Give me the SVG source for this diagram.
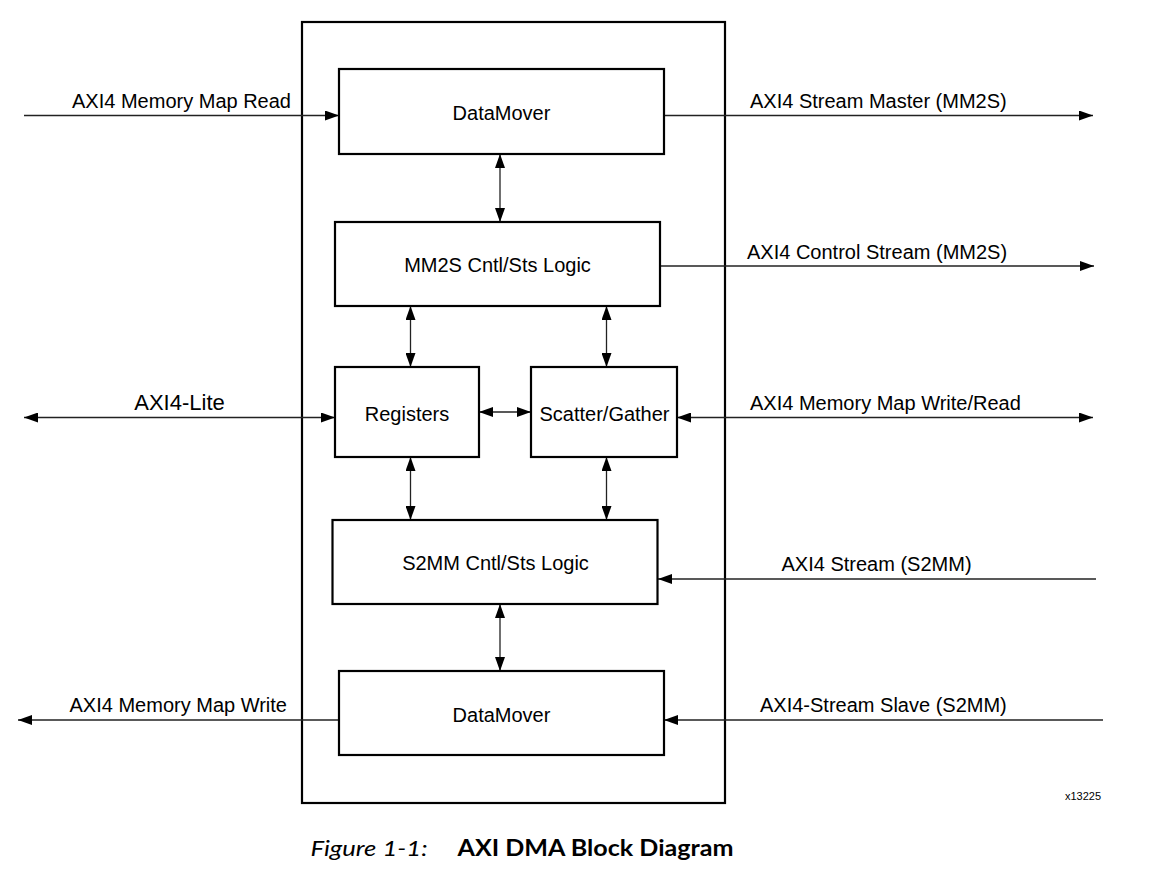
<svg xmlns="http://www.w3.org/2000/svg" width="1162" height="881" viewBox="0 0 1162 881">
<style>
  .box{fill:#fff;stroke:#000;stroke-width:2.2}
  .outer{fill:none;stroke:#000;stroke-width:2.2}
  .lbl{font-family:"Liberation Sans",Arial,sans-serif;font-size:20px;fill:#000}
  .c{text-anchor:middle}
  .ln{stroke:#222;stroke-width:1.3;fill:none}
  .one{marker-end:url(#ah)}
  .two{marker-start:url(#ah);marker-end:url(#ah)}
</style>
<defs>
  <marker id="ah" markerUnits="userSpaceOnUse" markerWidth="14" markerHeight="10" refX="14" refY="5" orient="auto-start-reverse">
    <path d="M0,0 L14,5 L0,10 z" fill="#000"/>
  </marker>
</defs>
<rect width="1162" height="881" fill="#fff"/>
<g id="container"><rect class="outer" x="302" y="22" width="423" height="781"/></g>
<g id="connectors">
  <line class="ln one" x1="24" y1="115.5" x2="339" y2="115.5"/>
  <line class="ln one" x1="664" y1="115.5" x2="1093" y2="115.5"/>
  <line class="ln two" x1="500" y1="154" x2="500" y2="222"/>
  <line class="ln one" x1="660" y1="266" x2="1094" y2="266"/>
  <line class="ln two" x1="410.5" y1="306" x2="410.5" y2="367"/>
  <line class="ln two" x1="606.5" y1="306" x2="606.5" y2="367"/>
  <line class="ln two" x1="24" y1="417.5" x2="335" y2="417.5"/>
  <line class="ln two" x1="479" y1="412" x2="531" y2="412"/>
  <line class="ln two" x1="677" y1="417.5" x2="1093" y2="417.5"/>
  <line class="ln two" x1="410.5" y1="457" x2="410.5" y2="520"/>
  <line class="ln two" x1="606.5" y1="457" x2="606.5" y2="520"/>
  <line class="ln one" x1="1096" y1="579" x2="658" y2="579"/>
  <line class="ln two" x1="500" y1="604" x2="500" y2="671"/>
  <line class="ln one" x1="339" y1="720" x2="18" y2="720"/>
  <line class="ln one" x1="1103" y1="720" x2="664" y2="720"/>
</g>
<g id="datamover-top"><rect class="box" x="339" y="69" width="325" height="85"/><text class="lbl c" x="501.5" y="120">DataMover</text></g>
<g id="mm2s"><rect class="box" x="335" y="222" width="325" height="84"/><text class="lbl c" x="497.5" y="272">MM2S Cntl/Sts Logic</text></g>
<g id="registers"><rect class="box" x="335" y="367" width="144" height="90"/><text class="lbl c" x="407" y="421">Registers</text></g>
<g id="sg"><rect class="box" x="531" y="367" width="146" height="90"/><text class="lbl c" x="604.5" y="421">Scatter/Gather</text></g>
<g id="s2mm"><rect class="box" x="332.5" y="520" width="325" height="84"/><text class="lbl c" x="495.5" y="570">S2MM Cntl/Sts Logic</text></g>
<g id="datamover-bottom"><rect class="box" x="339" y="671" width="325" height="84"/><text class="lbl c" x="501.5" y="722">DataMover</text></g>
<g id="labels">
  <text class="lbl" x="291" y="108" text-anchor="end">AXI4 Memory Map Read</text>
  <text class="lbl" x="750" y="108">AXI4 Stream Master (MM2S)</text>
  <text class="lbl" x="747" y="259">AXI4 Control Stream (MM2S)</text>
  <text class="lbl c" x="179.5" y="410" style="font-size:22px">AXI4-Lite</text>
  <text class="lbl" x="750" y="409.5">AXI4 Memory Map Write/Read</text>
  <text class="lbl" x="781.5" y="571">AXI4 Stream (S2MM)</text>
  <text class="lbl" x="287" y="712" text-anchor="end">AXI4 Memory Map Write</text>
  <text class="lbl" x="760" y="712">AXI4-Stream Slave (S2MM)</text>
  <text x="1101" y="800" text-anchor="end" style="font-family:'Liberation Sans',Arial,sans-serif;font-size:11px;fill:#000">x13225</text>
</g>
<g id="caption">
  <text x="310.5" y="856" textLength="117" lengthAdjust="spacingAndGlyphs" style="font-family:Lato,'Open Sans',sans-serif;font-style:italic;font-size:22px;fill:#000">Figure 1-1:</text>
  <text x="457.5" y="856" textLength="276" lengthAdjust="spacingAndGlyphs" style="font-family:Lato,'Open Sans',sans-serif;font-weight:bold;font-size:22px;fill:#000">AXI DMA Block Diagram</text>
</g>
</svg>
